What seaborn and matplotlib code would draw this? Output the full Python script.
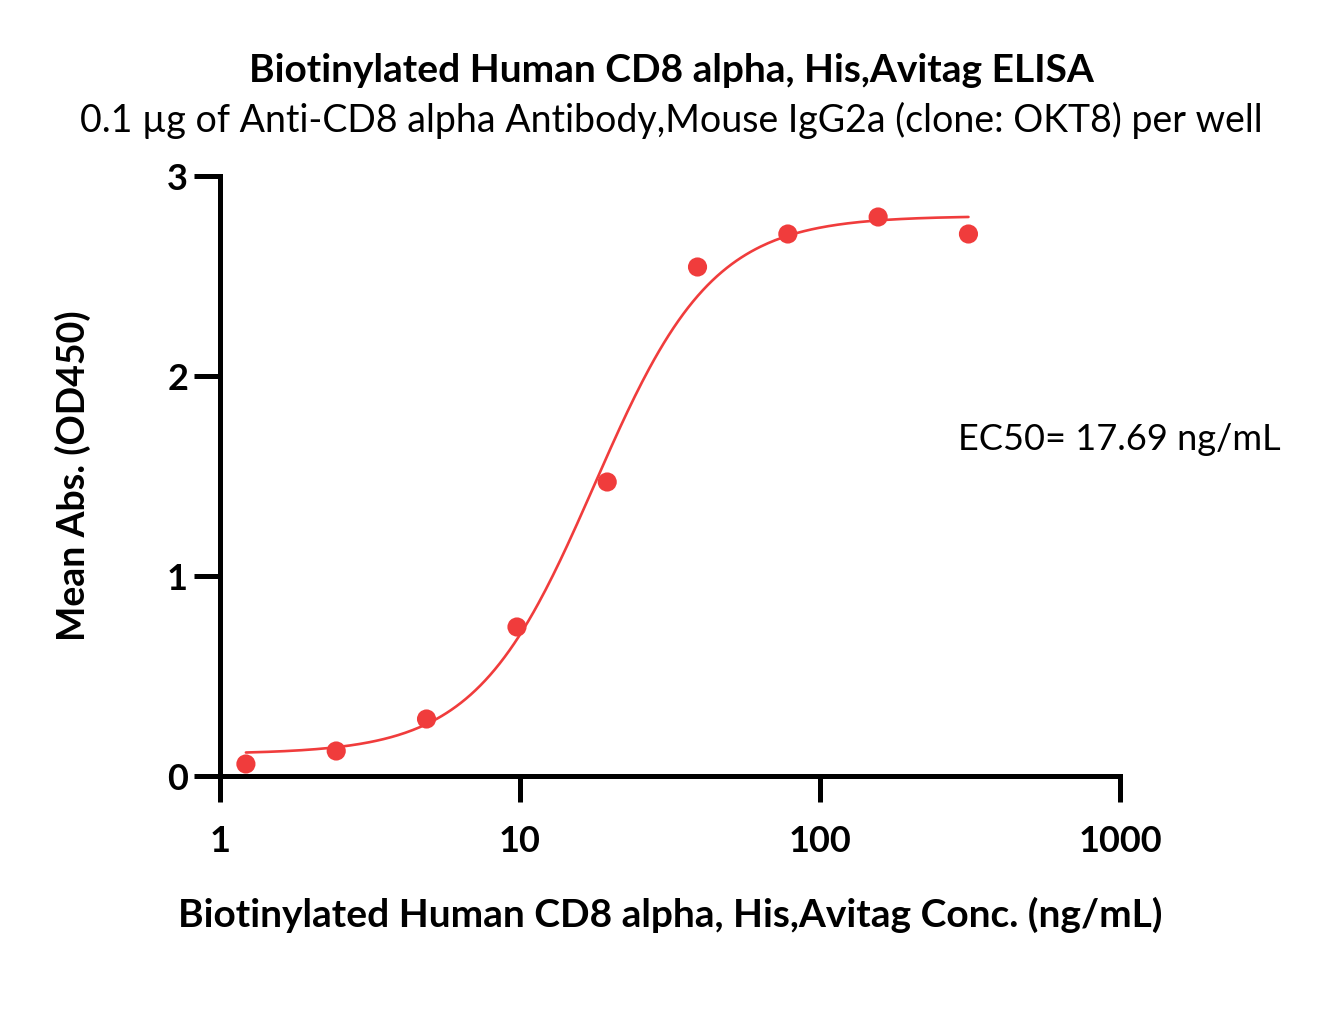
import numpy as np
import pandas as pd
import matplotlib
matplotlib.use("Agg")
import matplotlib.pyplot as plt
import seaborn as sns

# Data
conc = [1.22, 2.44, 4.88, 9.77, 19.53, 39.06, 78.13, 156.25, 312.5]
absorb = [0.06, 0.125, 0.285, 0.745, 1.47, 2.545, 2.71, 2.795, 2.71]
# 4PL fit parameters
fit_bottom = 0.11
fit_top = 2.80
fit_ec50 = 17.69
fit_hill = 2.2

title = "Biotinylated Human CD8 alpha, His,Avitag ELISA"
subtitle = "0.1 \u00b5g of Anti-CD8 alpha Antibody,Mouse IgG2a (clone: OKT8) per well"
xlabel = "Biotinylated Human CD8 alpha, His,Avitag Conc. (ng/mL)"
ylabel = "Mean Abs. (OD450)"
ec50_text = "EC50= 17.69 ng/mL"
xticks = [1, 10, 100, 1000]
xticklabels = ["1", "10", "100", "1000"]
yticks = [0, 1, 2, 3]

sns.set_theme(style="ticks")
plt.rcParams['font.family'] = ['Lato', 'DejaVu Sans']
plt.rcParams['text.color'] = 'black'
plt.rcParams['axes.labelcolor'] = 'black'
plt.rcParams['xtick.color'] = 'black'
plt.rcParams['ytick.color'] = 'black'

red = "#F03C3C"
fig = plt.figure(figsize=(13.27, 10.32), dpi=100)
ax = fig.add_axes([220/1327, 1-776/1032, 900/1327, 600/1032])

xs = np.logspace(np.log10(conc[0]), np.log10(conc[-1]), 300)
ys = fit_bottom + (fit_top - fit_bottom) / (1 + (fit_ec50 / xs) ** fit_hill)
curve = pd.DataFrame({"x": xs, "y": ys})
pts = pd.DataFrame({"x": conc, "y": absorb})

sns.lineplot(data=curve, x="x", y="y", ax=ax, color=red, linewidth=1.9)
sns.scatterplot(data=pts, x="x", y="y", ax=ax, color=red, s=190, edgecolor="none", zorder=3, clip_on=False)

ax.set_xscale("log")
ax.set_xlim(1, 1000)
ax.set_ylim(0, 3)
ax.set_xticks(xticks)
ax.set_xticklabels(xticklabels)
ax.set_yticks(yticks)
ax.xaxis.set_minor_locator(matplotlib.ticker.NullLocator())
ax.yaxis.set_minor_locator(matplotlib.ticker.NullLocator())

for s in ["top", "right"]:
    ax.spines[s].set_visible(False)
for s in ["left", "bottom"]:
    ax.spines[s].set_linewidth(3.6)
    ax.spines[s].set_color("black")
ax.tick_params(axis="both", which="major", direction="out", length=19, width=3.6,
               color="black", labelcolor="black", labelsize=26, bottom=True, left=True)
ax.tick_params(axis="x", pad=16)
ax.tick_params(axis="y", pad=4)
for lab in ax.get_xticklabels() + ax.get_yticklabels():
    lab.set_fontweight("bold")

ax.set_xlabel(xlabel, fontsize=28, fontweight="bold", color="black")
ax.set_ylabel(ylabel, fontsize=27, fontweight="bold", color="black")
ax.xaxis.set_label_coords(0.5, (776-915)/600)
ax.xaxis.label.set_va("center")
ax.yaxis.set_label_coords((73-220)/900, 0.5)
ax.yaxis.label.set_va("center")

fig.text(671/1327, 1-70/1032, title, ha="center", va="center", fontsize=28, fontweight="bold", color="black")
fig.text(671/1327, 1-120/1032, subtitle, ha="center", va="center", fontsize=27, color="black")
ax.text(288, 1.68, ec50_text, ha="left", va="center", fontsize=26, color="black")

fig.savefig("out.png", dpi=100)
